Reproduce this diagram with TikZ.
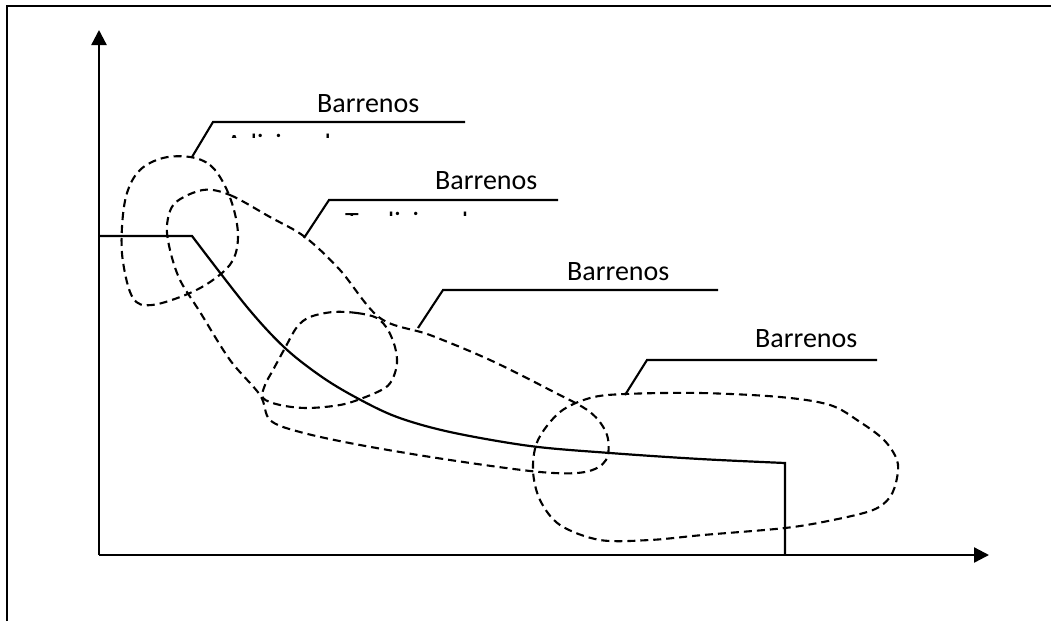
\documentclass[tikz,border=0pt]{standalone}
\usepackage{fontspec}
\setmainfont{Carlito}
\usetikzlibrary{arrows.meta}
\begin{document}
\begin{tikzpicture}[x=1pt,y=-1pt,
  frame/.style={line width=2.8pt},
  axis/.style={line width=2.3pt,-{Triangle[width=15pt,length=15pt]}},
  curve/.style={line width=2.2pt,line join=miter},
  zone/.style={line width=2.1pt,dash pattern=on 8pt off 5pt},
  leader/.style={line width=2.1pt},
  lbl/.style={anchor=base west,inner sep=0pt,font=\fontsize{28}{32}\selectfont},
]
\useasboundingbox (0,0) rectangle (1051,621);

% page frame
\draw[frame] (7,621) -- (7,6) -- (1051,6);

% axes
\coordinate (O) at (99,555);
\coordinate (ytop) at (99,30);
\coordinate (xend) at (989,555);
\draw[axis] (O) -- (ytop);
\draw[axis] (O) -- (xend);

% characteristic curve
\coordinate (c0) at (99,236);
\coordinate (c1) at (192,236);
\coordinate (c2) at (785,463);
\coordinate (c3) at (785,555);
\draw[curve] (c0) -- (c1)
  -- plot[smooth,tension=0.55] coordinates {(192,236) (247,307) (285,348) (322,377) (357,398) (397,417) (450,432) (530,446) (610,453) (700,459) (785,463)}
  -- (c3);

% zone A
\draw[zone] plot[smooth cycle,tension=0.6] coordinates {(190,157) (210,165) (224,184) (234,210) (238,237) (233,260) (217,277) (190,293) (152,305) (133,298) (123,262) (122,227) (127,193) (140,170) (163,158)};
% zone B
\draw[zone] plot[smooth cycle,tension=0.55] coordinates {(203,190) (230,195) (270,217) (305,237) (340,270) (380,318) (430,335) (490,360) (550,390) (590,412) (607,435) (606,460) (585,472) (540,472) (450,460) (360,445) (300,432) (270,420) (260,395) (230,360) (200,312) (180,280) (170,250) (167,225) (175,203)};
% zone C
\draw[zone] plot[smooth cycle,tension=0.55] coordinates {(333,312) (357,313) (377,318) (388,330) (395,347) (397,363) (393,378) (385,388) (363,398) (340,405) (307,408) (280,405) (263,398) (265,385) (273,370) (285,348) (297,327) (310,317)};
% zone D
\draw[zone] plot[smooth cycle,tension=0.55] coordinates {(625,394) (700,393) (780,397) (830,405) (860,422) (884,440) (897,460) (897,478) (890,497) (873,510) (833,520) (785,528) (703,535) (650,540) (600,540) (560,525) (540,500) (533,470) (538,440) (560,412) (590,398)};

% labels
\node[lbl] (lab1) at (317,112) {Barrenos};
\node[lbl] (lab2) at (435,189) {Barrenos};
\node[lbl] (lab3) at (567,280) {Barrenos};
\node[lbl] (lab4) at (755,347) {Barrenos};

% second lines, hidden by the leader boxes
\begin{scope}
  \clip (200,132) rectangle (470,137);
  \node[lbl] (sub1) at (226,153) {Adicionales};
\end{scope}
\begin{scope}
  \clip (330,210) rectangle (560,215);
  \node[lbl] (sub2) at (345,231) {Tradicionales};
\end{scope}

% leader lines
\coordinate (a1) at (192,157); \coordinate (k1) at (213,122); \coordinate (e1) at (465,122);
\coordinate (a2) at (304,238); \coordinate (k2) at (329,200); \coordinate (e2) at (558,200);
\coordinate (a3) at (418,328); \coordinate (k3) at (443,290); \coordinate (e3) at (718,290);
\coordinate (a4) at (625,395); \coordinate (k4) at (647,360); \coordinate (e4) at (877,360);
\draw[leader] (a1) -- (k1) -- (e1);
\draw[leader] (a2) -- (k2) -- (e2);
\draw[leader] (a3) -- (k3) -- (e3);
\draw[leader] (a4) -- (k4) -- (e4);
\end{tikzpicture}
\end{document}
